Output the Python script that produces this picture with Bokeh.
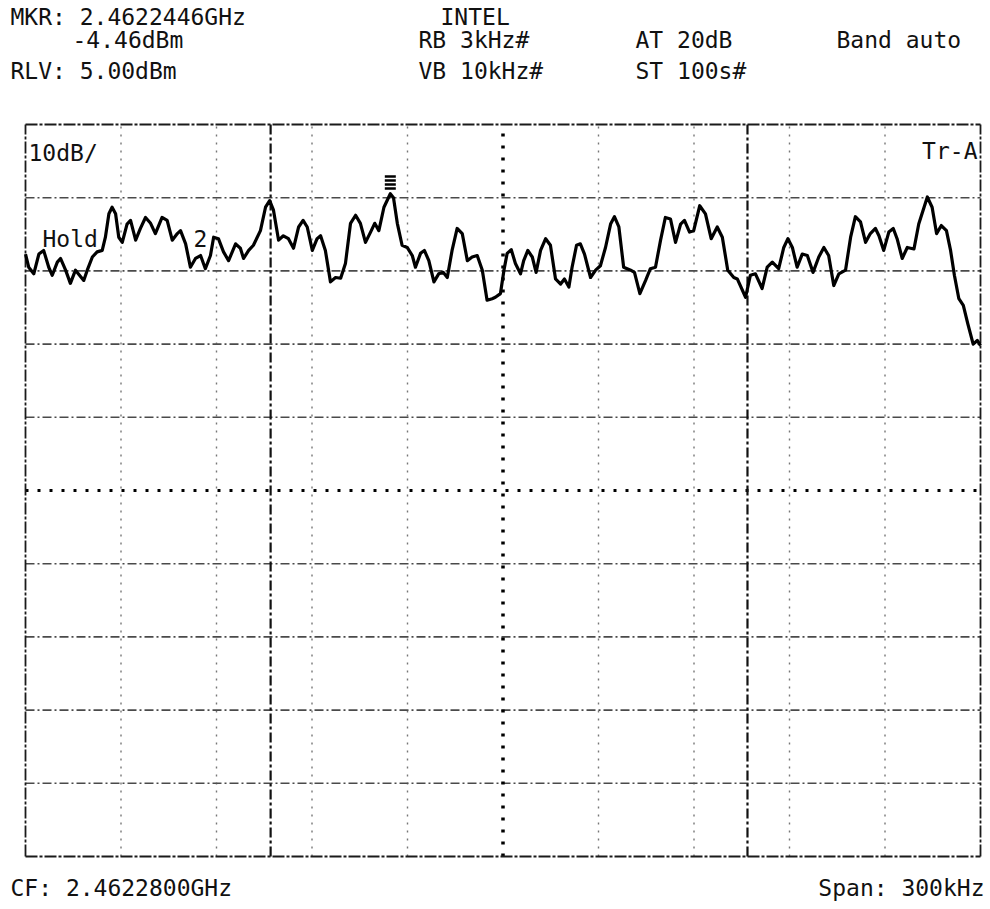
from bokeh.plotting import figure
from bokeh.models import Label, Range1d
from bokeh.embed import file_html
from bokeh.resources import INLINE

# Analyzer settings
CENTER_GHZ = 2.4622800
SPAN_KHZ = 300.0
REF_LEVEL_DBM = 5.0
DB_PER_DIV = 10.0
N_DIV = 10

# Marker readout (offset from centre frequency, level)
MARKER_OFFSET_KHZ = -35.4
MARKER_LEVEL_DBM = -4.46

# Display lines (offset from centre, kHz)
display_lines_khz = [-73.0, 76.8]

# Max-hold trace: offset from centre frequency (kHz) and level (dBm)
freq_khz = [
    -150.0, -149.0, -147.4, -145.8, -144.3, -142.7, -141.6, -140.0, -139.0, -137.4,
    -135.9, -134.3, -131.7, -130.6, -129.0, -127.5, -125.9, -124.9, -123.8, -122.8,
    -121.7, -120.7, -119.6, -118.1, -117.0, -115.4, -113.9, -112.3, -110.7, -109.2,
    -107.1, -105.5, -103.9, -102.3, -101.3, -99.7, -98.2, -96.6, -95.0, -93.5,
    -91.9, -90.9, -89.4, -87.8, -86.2, -84.0, -82.5, -81.5, -79.9, -78.4,
    -76.2, -74.6, -73.3, -72.1, -70.5, -69.0, -67.4, -65.8, -64.2, -62.8,
    -61.5, -59.9, -58.4, -57.3, -55.8, -54.2, -52.6, -51.0, -49.5, -47.9,
    -46.3, -44.8, -43.2, -41.6, -40.3, -39.0, -37.4, -35.4, -34.4, -33.2,
    -31.7, -30.1, -28.5, -27.5, -25.9, -24.7, -23.3, -21.7, -20.2, -18.8,
    -17.5, -16.0, -14.4, -12.8, -11.2, -9.7, -8.1, -6.5, -5.0, -3.4,
    -2.4, -0.8, 0.3, 1.3, 2.6, 3.9, 5.5, 6.5, 7.8, 9.2,
    10.4, 11.8, 13.4, 14.9, 16.5, 18.1, 19.3, 20.7, 21.7, 23.1,
    24.3, 25.6, 27.5, 29.1, 30.6, 32.2, 33.8, 35.0, 36.4, 37.9,
    40.1, 41.3, 43.0, 44.8, 46.3, 47.9, 49.5, 51.0, 52.6, 54.2,
    55.8, 57.0, 58.6, 59.9, 61.8, 63.6, 65.4, 67.3, 68.9, 70.6,
    72.5, 73.6, 76.2, 77.7, 79.3, 81.4, 83.0, 84.6, 86.6, 88.2,
    89.5, 90.9, 92.4, 94.0, 95.6, 97.4, 99.2, 100.8, 102.3, 103.9,
    105.5, 107.6, 109.2, 110.7, 112.3, 113.9, 115.4, 117.0, 118.1, 119.6,
    121.2, 122.6, 123.8, 125.4, 127.0, 129.1, 130.6, 133.3, 134.8, 136.2,
    137.7, 139.3, 140.6, 141.8, 143.2, 144.6, 146.0, 147.7, 149.0, 150.0,
]
level_dbm = [
    -12.7, -14.5, -15.4, -12.7, -12.2, -14.5, -15.6, -13.8, -13.3, -14.9,
    -16.7, -14.9, -16.3, -14.9, -13.1, -12.4, -12.2, -10.4, -7.2, -6.3,
    -7.2, -10.4, -11.1, -8.6, -8.1, -10.8, -9.2, -7.7, -8.5, -9.9,
    -7.7, -8.1, -10.8, -9.9, -9.5, -11.3, -14.5, -13.3, -12.9, -14.7,
    -12.9, -10.4, -10.6, -12.4, -13.6, -11.3, -11.9, -13.3, -12.2, -11.5,
    -9.5, -6.3, -5.4, -6.7, -10.8, -10.2, -10.6, -11.9, -9.0, -8.1,
    -9.0, -12.2, -10.6, -10.2, -12.2, -16.5, -15.9, -16.0, -14.0, -8.5,
    -7.4, -8.5, -11.1, -9.7, -8.5, -9.5, -6.3, -4.46, -5.0, -8.5,
    -11.5, -11.8, -12.9, -14.5, -12.6, -12.2, -13.6, -16.5, -15.4, -15.2,
    -15.9, -12.2, -9.2, -9.9, -13.6, -13.1, -12.9, -14.9, -19.0, -18.8,
    -18.6, -18.1, -14.9, -12.6, -12.1, -14.0, -15.4, -13.6, -12.2, -13.1,
    -15.2, -12.2, -10.6, -11.5, -16.1, -16.8, -16.1, -17.2, -14.5, -11.5,
    -11.3, -12.7, -15.9, -14.9, -14.3, -11.8, -8.6, -7.6, -9.0, -14.5,
    -14.9, -15.2, -18.1, -16.3, -14.7, -14.5, -10.8, -7.7, -7.9, -11.1,
    -8.6, -8.1, -9.7, -9.5, -6.1, -7.2, -10.6, -9.0, -10.4, -14.9,
    -15.9, -16.1, -18.6, -15.6, -15.4, -17.4, -14.5, -13.8, -14.7, -11.8,
    -10.6, -11.8, -14.5, -12.7, -12.9, -15.2, -13.1, -11.8, -12.9, -17.0,
    -15.4, -14.9, -10.4, -7.6, -8.3, -11.1, -9.9, -9.2, -10.2, -12.2,
    -9.7, -9.2, -10.6, -13.3, -11.8, -12.0, -8.6, -4.9, -6.3, -9.9,
    -8.8, -9.5, -12.2, -15.6, -18.8, -19.7, -22.2, -25.0, -24.5, -25.2,
]

# Header annotation texts (text, left edge in px)
header_rows = [
    [("MKR: 2.4622446GHz", 10), ("INTEL", 440)],
    [("-4.46dBm", 72), ("RB 3kHz#", 418), ("AT 20dB", 635), ("Band auto", 836)],
    [("RLV: 5.00dBm", 10), ("VB 10kHz#", 418), ("ST 100s#", 635)],
]

# ---- page geometry (canvas pixels) ----
W, H = 990, 909
# graticule box on the page
GL, GR, GT, GB = 25, 980, 124, 856

x0, x1 = -SPAN_KHZ / 2, SPAN_KHZ / 2
ytop = REF_LEVEL_DBM
ybot = REF_LEVEL_DBM - N_DIV * DB_PER_DIV


def cx(px):
    """page x pixel -> kHz offset"""
    return x0 + (px - GL) * (x1 - x0) / (GR - GL)


def cy(py):
    """page y pixel -> dBm"""
    return ytop - (py - GT) * (ytop - ybot) / (GB - GT)


# the frame spans the whole page so header/footer text can sit around the graticule
p = figure(
    width=W, height=H,
    x_range=Range1d(cx(0), cx(W)), y_range=Range1d(cy(H), cy(0)),
    x_axis_location=None, y_axis_location=None,
    toolbar_location=None, output_backend="svg",
    min_border=0,
)
p.grid.visible = False
p.outline_line_color = None
p.background_fill_color = "white"
p.border_fill_color = "white"

xdiv = [x0 + i * (x1 - x0) / N_DIV for i in range(N_DIV + 1)]
ydiv = [ytop - i * DB_PER_DIV for i in range(N_DIV + 1)]

# horizontal graticule lines (dash-dot)
hy = [y for i, y in enumerate(ydiv) if i not in (0, 5, N_DIV)]
p.segment(x0=[x0] * len(hy), x1=[x1] * len(hy), y0=hy, y1=hy,
          line_color="#2a2a2a", line_width=1.6, line_dash="9 3 2 3", line_alpha=0.85)
# centre horizontal line (heavy dots)
p.segment(x0=[x0], x1=[x1], y0=[ydiv[5]], y1=[ydiv[5]],
          line_color="black", line_width=3, line_dash="3 9")

# vertical graticule lines (light dotted)
vx = [x for i, x in enumerate(xdiv) if i not in (0, 5, N_DIV)]
p.segment(x0=vx, x1=vx, y0=[ybot] * len(vx), y1=[ytop] * len(vx),
          line_color="#555555", line_width=1.4, line_dash="2 6", line_alpha=0.8)
# centre vertical line (heavy dots)
p.segment(x0=[xdiv[5]], x1=[xdiv[5]], y0=[ybot], y1=[ytop],
          line_color="black", line_width=3.5, line_dash="3 9")
# display lines
p.segment(x0=display_lines_khz, x1=display_lines_khz,
          y0=[ybot] * len(display_lines_khz), y1=[ytop] * len(display_lines_khz),
          line_color="#111111", line_width=2.2, line_dash="10 3 3 3")

# outer box (dash-dot)
p.segment(x0=[x0, x0, x0, x1], x1=[x1, x1, x0, x1],
          y0=[ytop, ybot, ybot, ybot], y1=[ytop, ybot, ytop, ytop],
          line_color="#1a1a1a", line_width=1.8, line_dash="12 2 3 2")

# trace
p.line(freq_khz, level_dbm, line_color="black", line_width=3.2, line_join="round")

# marker symbol stacked above the marked peak
p.scatter(x=[MARKER_OFFSET_KHZ] * 4,
          y=[MARKER_LEVEL_DBM + d for d in (0.7, 1.25, 1.8, 2.35)],
          marker="dash", size=11, line_color="black", line_width=2.5)

FONT = "DejaVu Sans Mono"
FSIZE = "23px"


def add_text(txt, px, py, align="left"):
    p.add_layout(Label(x=cx(px), y=cy(py), text=txt, text_font=FONT,
                       text_font_size=FSIZE, text_color="#111111",
                       text_align=align, text_baseline="middle"))


for row_y, row in zip((16, 39, 70), header_rows):
    for txt, px in row:
        add_text(txt, px, row_y)

add_text("10dB/", 28, 152)
add_text("Tr-A", 977, 150, align="right")
add_text("Hold", 42, 238)
add_text("2", 193, 238)
add_text(f"CF: {CENTER_GHZ:.7f}GHz", 10, 887)
add_text(f"Span: {SPAN_KHZ:.0f}kHz", 984, 887, align="right")

open("out.html", "w").write(file_html(p, INLINE))
